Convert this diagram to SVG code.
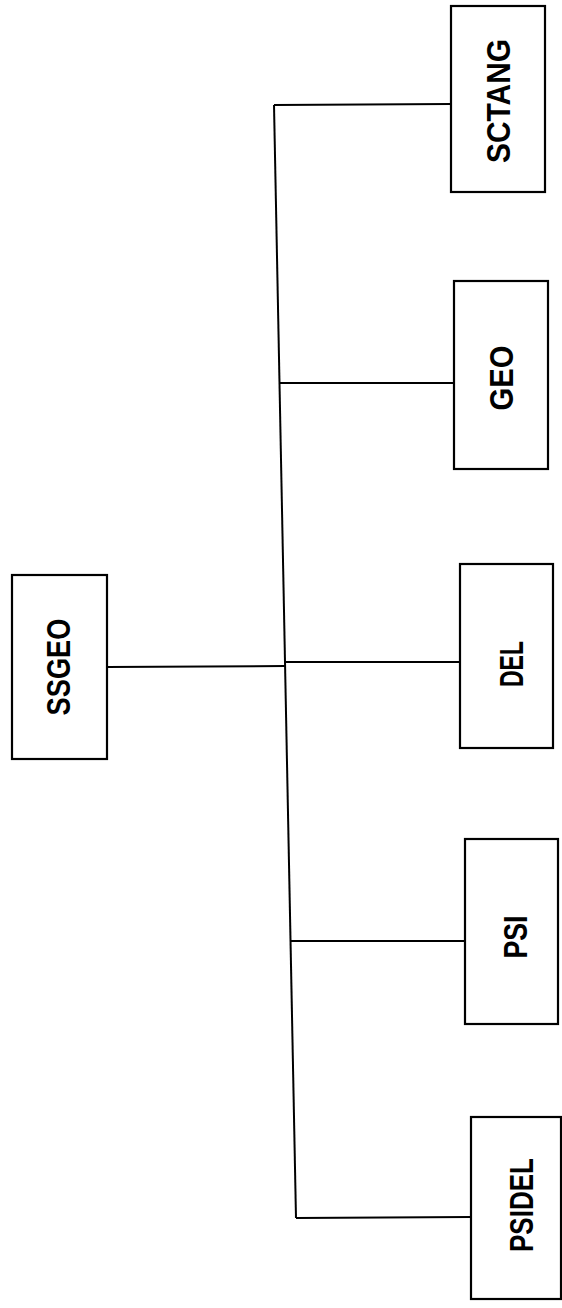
<svg xmlns="http://www.w3.org/2000/svg" width="562" height="1308" viewBox="0 0 562 1308">
<style>
.box{fill:#fff;stroke:#000;stroke-width:2.2}
.lbl{font-family:"Liberation Sans",Arial,sans-serif;font-weight:bold;font-size:33px;fill:#000;text-anchor:middle}
.con{stroke:#000;stroke-width:2;fill:none}
</style>
<rect width="562" height="1308" fill="#fff"/>
<g id="connectors">
<line class="con" x1="274" y1="105" x2="296" y2="1218"/>
<line class="con" x1="274" y1="105" x2="451" y2="104"/>
<line class="con" x1="279.5" y1="383" x2="454" y2="383"/>
<line class="con" x1="107" y1="667" x2="285" y2="666"/>
<line class="con" x1="285" y1="662" x2="460" y2="662"/>
<line class="con" x1="290.5" y1="941" x2="465" y2="941"/>
<line class="con" x1="296" y1="1218" x2="471" y2="1217"/>
</g>
<g id="SSGEO">
<rect class="box" x="12" y="575" width="95" height="184"/>
<text class="lbl" transform="translate(70,667) rotate(-90)" textLength="97" lengthAdjust="spacingAndGlyphs">SSGEO</text>
</g>
<g id="SCTANG">
<rect class="box" x="451" y="6" width="94" height="186"/>
<text class="lbl" transform="translate(510,101) rotate(-90)" textLength="124" lengthAdjust="spacingAndGlyphs">SCTANG</text>
</g>
<g id="GEO">
<rect class="box" x="454" y="281" width="94" height="188"/>
<text class="lbl" transform="translate(513,378) rotate(-90)" textLength="65" lengthAdjust="spacingAndGlyphs">GEO</text>
</g>
<g id="DEL">
<rect class="box" x="460" y="564" width="93" height="184"/>
<text class="lbl" transform="translate(523,664) rotate(-90)" textLength="46" lengthAdjust="spacingAndGlyphs">DEL</text>
</g>
<g id="PSI">
<rect class="box" x="465" y="839" width="93" height="185"/>
<text class="lbl" transform="translate(527,937) rotate(-90)" textLength="43" lengthAdjust="spacingAndGlyphs">PSI</text>
</g>
<g id="PSIDEL">
<rect class="box" x="471" y="1117" width="90" height="182"/>
<text class="lbl" transform="translate(533,1205) rotate(-90)" textLength="94" lengthAdjust="spacingAndGlyphs">PSIDEL</text>
</g>
</svg>
